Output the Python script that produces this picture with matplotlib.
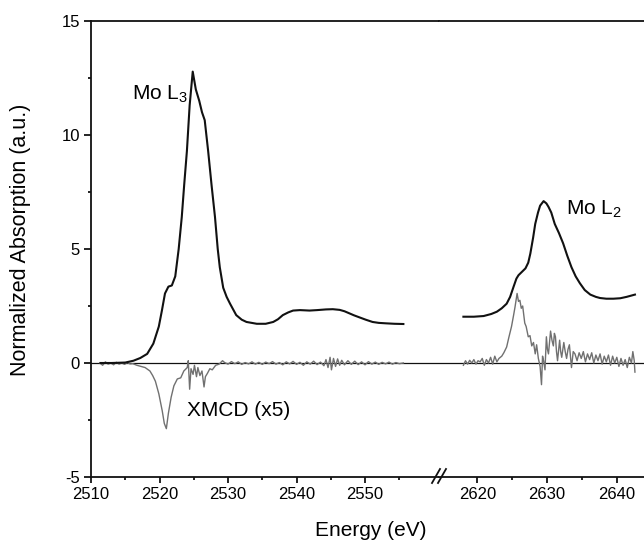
import matplotlib
matplotlib.use("Agg")
import matplotlib.pyplot as plt
from matplotlib.lines import Line2D
from matplotlib.ticker import FixedLocator

plt.rcParams['font.family'] = ['Liberation Sans', 'DejaVu Sans']
plt.rcParams['mathtext.default'] = 'regular'
plt.rcParams['axes.unicode_minus'] = False

# ---------------- data ----------------
l3_energy = [2511.4, 2513.0, 2515.0, 2516.2, 2517.2, 2518.2, 2519.1, 2519.9, 2520.35,
             2520.8, 2521.3, 2521.8, 2522.3, 2522.8, 2523.25, 2523.6, 2524.0, 2524.4,
             2524.85, 2525.3, 2525.8, 2526.2, 2526.6, 2527.1, 2527.6, 2528.1, 2528.5,
             2528.8, 2529.3, 2529.8, 2530.3, 2531.2, 2532.0, 2532.7, 2534.2, 2535.5,
             2536.6, 2537.3, 2538.0, 2538.8, 2539.5, 2540.5, 2541.9, 2543.0, 2544.3,
             2545.3, 2546.3, 2547.0, 2547.7, 2548.4, 2549.2, 2550.1, 2551.1, 2552.0,
             2553.05, 2554.3, 2555.6]
l3_absorption = [0.0, 0.0, 0.02, 0.1, 0.22, 0.4, 0.85, 1.6, 2.3,
                 3.05, 3.35, 3.4, 3.8, 5.0, 6.4, 7.8, 9.3, 11.3,
                 12.78, 12.0, 11.5, 11.0, 10.65, 9.3, 7.8, 6.4, 5.0,
                 4.2, 3.3, 2.9, 2.6, 2.1, 1.9, 1.8, 1.72, 1.72,
                 1.8, 1.92, 2.1, 2.22, 2.3, 2.32, 2.3, 2.32, 2.35,
                 2.36, 2.33, 2.27, 2.18, 2.09, 2.0, 1.9, 1.8, 1.76,
                 1.74, 1.72, 1.71]

l2_energy = [2618.0, 2619.5, 2620.9, 2622.0, 2622.8, 2623.5, 2624.2, 2624.7, 2625.2, 2625.6,
             2625.9, 2626.4, 2626.9, 2627.3, 2627.6, 2628.0, 2628.3, 2628.7, 2629.0, 2629.5,
             2629.9, 2630.2, 2630.6, 2631.1, 2631.7, 2632.3, 2632.9, 2633.5, 2634.1, 2634.7,
             2635.4, 2636.2, 2637.0, 2637.6, 2638.5, 2639.5, 2640.5, 2641.4, 2642.0, 2642.6]
l2_absorption = [2.03, 2.03, 2.06, 2.15, 2.25, 2.4, 2.6, 2.9, 3.35, 3.7,
                 3.85, 4.0, 4.15, 4.4, 4.8, 5.5, 6.1, 6.6, 6.9, 7.1,
                 7.0, 6.85, 6.6, 6.1, 5.7, 5.25, 4.7, 4.2, 3.8, 3.5,
                 3.2, 3.0, 2.9, 2.85, 2.82, 2.82, 2.84, 2.9, 2.95, 3.0]

xmcd_l3_energy = [2511.3, 2511.7, 2512.1, 2512.5, 2512.9, 2513.3, 2513.7, 2514.1, 2514.5, 2514.9,
                  2515.3, 2515.7, 2516.1, 2516.7, 2517.3, 2517.9, 2518.6, 2519.0, 2519.4, 2519.9,
                  2520.4, 2520.7, 2521.0, 2521.3, 2521.7, 2522.1, 2522.6, 2523.1, 2523.55, 2524.05,
                  2524.2, 2524.4, 2524.6, 2524.9, 2525.1, 2525.4, 2525.6, 2525.9, 2526.2, 2526.5,
                  2526.7, 2527.0, 2527.35, 2527.7, 2528.2, 2528.7, 2529.2, 2529.5, 2530.0, 2530.5,
                  2531.0, 2531.5, 2532.0, 2532.5, 2533.0, 2533.5, 2534.0, 2534.5, 2535.0, 2535.5,
                  2536.0, 2536.5, 2537.0, 2537.5, 2538.0, 2538.5, 2539.0, 2539.5, 2540.0, 2540.5,
                  2541.0, 2541.5, 2542.0, 2542.5, 2543.0, 2543.5, 2544.0, 2544.3, 2544.6, 2544.9,
                  2545.1, 2545.4, 2545.7, 2546.0, 2546.3, 2546.6, 2547.0, 2547.5, 2548.0, 2548.5,
                  2549.0, 2549.5, 2550.0, 2550.5, 2551.0, 2551.5, 2552.0, 2552.5, 2553.0, 2553.5,
                  2554.0, 2554.5, 2555.0, 2555.6]
xmcd_l3_values = [0.0, -0.1, 0.05, -0.05, 0.0, -0.08, 0.03, -0.05, 0.0, -0.06,
                  0.02, -0.04, -0.03, -0.1, -0.15, -0.2, -0.35, -0.55, -0.8, -1.35,
                  -2.1, -2.65, -2.88, -2.2, -1.5, -1.0, -0.7, -0.65, -0.35, -0.2,
                  0.1, -1.15, -0.25, -0.5, -0.1, -0.6, -0.2, -0.55, -0.35, -1.05,
                  -0.6, -0.45, -0.25, -0.3, -0.1, -0.05, 0.1, 0.02, -0.05, 0.06,
                  -0.03, 0.05, -0.06, 0.02, -0.04, 0.05, -0.05, 0.03, -0.06, 0.04,
                  -0.03, 0.06, -0.05, 0.02, -0.08, 0.05, -0.04, 0.07, -0.06, 0.03,
                  -0.1, 0.05, -0.05, 0.08, -0.07, 0.04, -0.12, 0.15, -0.2, 0.25,
                  -0.3, 0.2, -0.15, 0.18, -0.1, 0.12, -0.08, 0.1, -0.06, 0.08,
                  -0.07, 0.05, -0.08, 0.06, -0.05, 0.04, -0.06, 0.03, -0.04, 0.04,
                  -0.05, 0.02, -0.03, 0.0]

xmcd_l2_energy = [2618.0, 2618.3, 2618.6, 2618.9, 2619.2, 2619.5, 2619.8, 2620.1, 2620.4, 2620.7,
                  2621.0, 2621.3, 2621.6, 2621.9, 2622.2, 2622.5, 2622.8, 2623.1, 2623.5, 2623.8,
                  2624.2, 2624.5, 2624.9, 2625.2, 2625.4, 2625.7, 2625.9, 2626.1, 2626.3, 2626.5,
                  2626.8, 2627.0, 2627.3, 2627.55, 2627.8, 2628.05, 2628.3, 2628.5, 2628.75, 2629.0,
                  2629.2, 2629.35, 2629.5, 2629.7, 2629.9, 2630.05, 2630.2, 2630.5, 2630.7, 2630.9,
                  2631.05, 2631.2, 2631.35, 2631.5, 2631.8, 2631.95, 2632.1, 2632.4, 2632.6, 2632.8,
                  2633.0, 2633.2, 2633.5, 2633.75, 2634.0, 2634.3, 2634.6, 2634.9, 2635.2, 2635.5,
                  2635.8, 2636.1, 2636.4, 2636.7, 2637.0, 2637.3, 2637.6, 2637.9, 2638.2, 2638.5,
                  2638.8, 2639.1, 2639.4, 2639.7, 2640.0, 2640.3, 2640.6, 2640.9, 2641.2, 2641.5,
                  2641.8, 2642.1, 2642.3, 2642.5, 2642.6]
xmcd_l2_values = [-0.1, 0.1, -0.05, 0.12, 0.0, 0.15, -0.05, 0.1, 0.05, 0.2,
                  -0.1, 0.15, 0.0, 0.25, -0.05, 0.3, 0.05, 0.2, 0.3, 0.45,
                  0.7, 1.1, 1.6, 2.1, 2.45, 3.05, 2.7, 2.75, 2.4, 2.5,
                  1.75, 1.6, 1.15, 1.2, 0.75, 0.9, 0.4, 0.8, 0.2, -0.15,
                  -0.95, 0.3, 0.1, -0.3, 1.15, 0.6, 0.4, 1.4, 1.0, 0.75,
                  1.3, 1.15, 0.5, 0.1, 1.0, 0.5, 0.25, 0.9, 0.5, 0.2,
                  0.6, 0.8, -0.2, 0.5, 0.4, 0.1, 0.45, 0.2, 0.5, 0.05,
                  0.4, 0.15, 0.45, 0.0, 0.35, 0.1, 0.4, -0.05, 0.3, 0.05,
                  0.35, -0.1, 0.3, 0.0, 0.25, -0.15, 0.2, -0.1, 0.15, -0.2,
                  0.25, 0.0, 0.5, 0.1, -0.4]

left_xlim = (2510, 2560.8)
right_xlim = (2614.5, 2643.9)
y_lim = (-5, 15)
left_major = [2510, 2520, 2530, 2540, 2550]
left_minor = [2515, 2525, 2535, 2545, 2555]
right_major = [2620, 2630, 2640]
right_minor = [2625, 2635]
y_major = [-5, 0, 5, 10, 15]
y_minor = [-2.5, 2.5, 7.5, 12.5]

# ---------------- figure ----------------
W, H = 644, 541
fig = plt.figure(figsize=(W / 100, H / 100), dpi=100)

ax_l = fig.add_axes([91 / W, 64 / H, 348 / W, 456 / H])
ax_r = fig.add_axes([439 / W, 64 / H, 205 / W, 456 / H], sharey=ax_l)

black = '#111111'
gray = '#707070'
tick_fs = 12

for ax in (ax_l, ax_r):
    ax.axhline(0, color=black, lw=0.9, zorder=1)
    for s in ax.spines.values():
        s.set_linewidth(1.3)
        s.set_color(black)
    ax.spines['right'].set_visible(False)
    ax.tick_params(axis='x', which='major', direction='out', length=4, width=1.2,
                   labelsize=tick_fs, pad=3, top=False)
    ax.tick_params(axis='x', which='minor', direction='out', length=2.5, width=1.2, top=False)

ax_r.spines['left'].set_visible(False)
ax_r.tick_params(axis='y', which='both', left=False, labelleft=False)

ax_l.plot(l3_energy, l3_absorption, color=black, lw=1.5, zorder=3)
ax_l.plot(xmcd_l3_energy, xmcd_l3_values, color=gray, lw=1.0, zorder=2)
ax_r.plot(l2_energy, l2_absorption, color=black, lw=1.5, zorder=3)
ax_r.plot(xmcd_l2_energy, xmcd_l2_values, color=gray, lw=1.0, zorder=2)

ax_l.set_xlim(*left_xlim)
ax_r.set_xlim(*right_xlim)
ax_l.set_ylim(*y_lim)

ax_l.xaxis.set_major_locator(FixedLocator(left_major))
ax_l.xaxis.set_minor_locator(FixedLocator(left_minor))
ax_r.xaxis.set_major_locator(FixedLocator(right_major))
ax_r.xaxis.set_minor_locator(FixedLocator(right_minor))
ax_l.yaxis.set_major_locator(FixedLocator(y_major))
ax_l.yaxis.set_minor_locator(FixedLocator(y_minor))
ax_l.tick_params(axis='y', which='major', direction='out', length=5, width=1.2,
                 labelsize=tick_fs, pad=3)
ax_l.tick_params(axis='y', which='minor', direction='out', length=2.5, width=1.2)

ax_l.set_ylabel('Normalized Absorption (a.u.)', fontsize=15.5)
ax_l.yaxis.set_label_coords(-0.172, 0.52)
fig.text(371 / W, (541 - 536.5) / H, 'Energy (eV)', ha='center', va='baseline', fontsize=15)

ax_l.text(2516.0, 11.55, r'Mo L$_3$', fontsize=15, ha='left', va='baseline')
ax_r.text(2632.7, 6.5, r'Mo L$_2$', fontsize=15, ha='left', va='baseline')
ax_l.text(2524.05, -2.32, 'XMCD (x5)', fontsize=15, ha='left', va='baseline')

# axis break marks
for x0 in (432, 438):
    fig.add_artist(Line2D([x0 / W, (x0 + 8) / W], [(541 - 483) / H, (541 - 469) / H],
                          transform=fig.transFigure, color=black, lw=1.3))

fig.savefig('out.png', dpi=100)
